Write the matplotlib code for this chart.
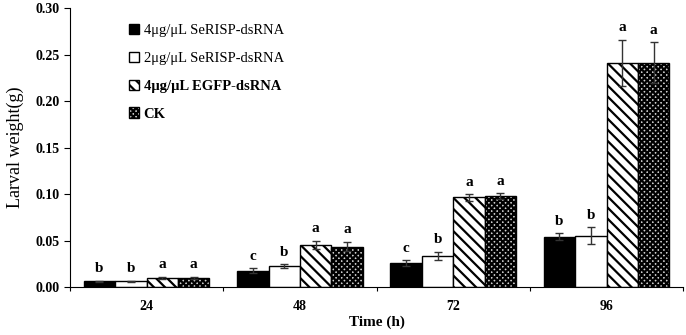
import numpy as np
import matplotlib
matplotlib.use("Agg")
import matplotlib.pyplot as plt
from matplotlib.patches import Patch

plt.rcParams['font.family'] = ['Liberation Serif', 'DejaVu Serif']
plt.rcParams['hatch.linewidth'] = 1.6

# data
times = ['24', '48', '72', '96']
series = ['4μg/μL SeRISP-dsRNA', '2μg/μL SeRISP-dsRNA', '4μg/μL EGFP-dsRNA', 'CK']
means = [
    [0.0065, 0.0174, 0.026, 0.0543],
    [0.0065, 0.0222, 0.0334, 0.0554],
    [0.0100, 0.0457, 0.0964, 0.241],
    [0.0100, 0.0435, 0.0978, 0.241],
]
errs = [
    [0.0005, 0.0026, 0.003, 0.0035],
    [0.0005, 0.0022, 0.0043, 0.009],
    [0.0012, 0.0043, 0.0035, 0.025],
    [0.0010, 0.0050, 0.0030, 0.022],
]
letters = [
    ['b', 'c', 'c', 'b'],
    ['b', 'b', 'b', 'b'],
    ['a', 'a', 'a', 'a'],
    ['a', 'a', 'a', 'a'],
]

faces = ['black', 'white', 'white', '#d0d0d0']
hatches = [None, None, '\\\\\\', 'xxxxxx']
weights = ['normal', 'normal', 'bold', 'bold']

fig = plt.figure(figsize=(6.86, 3.35), dpi=100)
ax = fig.add_axes([0.102, 0.143, 0.894, 0.833])

x = np.arange(len(times))
width = 0.205
for i in range(4):
    pos = x + (i - 1.5) * width
    ax.bar(pos, means[i], width, color=faces[i], edgecolor='black',
           hatch=hatches[i], linewidth=1.0, zorder=2)
    ax.errorbar(pos, means[i], yerr=errs[i], fmt='none', ecolor='#333333',
                elinewidth=1.0, capsize=3, capthick=1.0, zorder=3)
    for p, m, e, l in zip(pos, means[i], errs[i], letters[i]):
        ax.text(p, m + e + 0.006, l, ha='center', va='bottom',
                fontsize=11, fontweight='bold')

ax.set_xlim(-0.5, 3.5)
ax.set_ylim(0, 0.30)
ax.set_yticks(np.arange(0, 0.31, 0.05))
ax.set_yticklabels(['%.2f' % v for v in np.arange(0, 0.31, 0.05)],
                   fontsize=10, fontweight='bold')
ax.set_xticks(np.arange(-0.5, 3.6, 1.0))
ax.set_xticklabels([])
ax.set_xticks(x, minor=True)
ax.set_xticklabels(times, minor=True, fontsize=10, fontweight='bold')
ax.tick_params(axis='x', which='minor', length=0, pad=9)
ax.tick_params(axis='x', which='major', length=3, direction='out')
ax.tick_params(axis='y', length=4, direction='out')
ax.spines['top'].set_visible(False)
ax.spines['right'].set_visible(False)

ax.set_ylabel('Larval weight(g)', fontsize=13, labelpad=8)
ax.set_xlabel('Time (h)', fontsize=11, fontweight='bold', labelpad=2)

handles = [Patch(facecolor=faces[i], edgecolor='black', hatch=hatches[i])
           for i in range(4)]
leg = ax.legend(handles, series, loc='upper left', bbox_to_anchor=(0.075, 0.99),
                frameon=False, fontsize=10.5, handlelength=0.7, handleheight=0.7,
                handletextpad=0.3, labelspacing=1.0)
for t, w in zip(leg.get_texts(), weights):
    t.set_fontweight(w)

fig.savefig('out.png', dpi=100)
